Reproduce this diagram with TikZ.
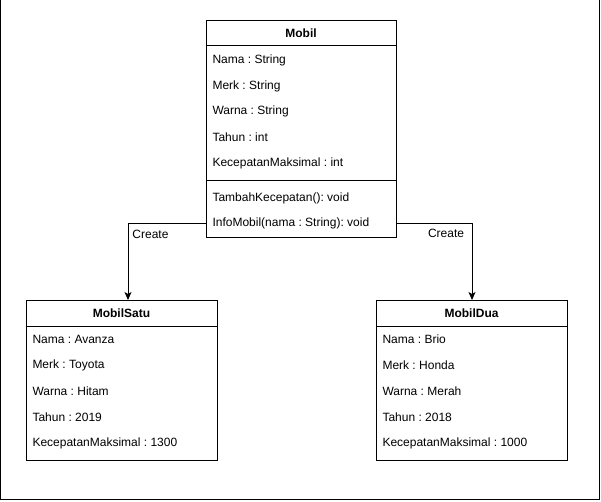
\documentclass[tikz,border=0pt]{standalone}
\usepackage{fontspec}
\setmainfont{Liberation Sans}
\usetikzlibrary{arrows.meta}
\frenchspacing
\begin{document}
\begin{tikzpicture}[x=1pt,y=-1pt,line width=1pt,
  box/.style={draw,rectangle,anchor=north west,inner sep=0pt},
  attr/.style={anchor=west,inner sep=0pt,font=\fontsize{12}{14}\selectfont},
  head/.style={inner sep=0pt,font=\fontsize{12}{14}\selectfont\bfseries},
  lbl/.style={inner sep=0pt,font=\fontsize{12}{14}\selectfont},
  conn/.style={draw,-{Stealth[length=8pt,width=7pt,inset=2pt]}}]
\useasboundingbox (0,0) rectangle (601,501);
\draw (0.5,0) -- (0.5,499.5) -- (599.5,499.5) -- (599.5,0);
% Mobil
\node[box,minimum width=190pt,minimum height=217pt] (mobil) at (206,20) {};
\draw (206,45) -- (396,45);
\draw (206,180) -- (396,180);
\node[head] (mobilh) at (301,33) {Mobil};
\node[attr] (m1) at (212,60.5) {Nama : String};
\node[attr] (m2) at (212,86.5) {Merk : String};
\node[attr] (m3) at (212,111.5) {Warna : String};
\node[attr] (m4) at (212,137.5) {Tahun : int};
\node[attr] (m5) at (212,163.5) {KecepatanMaksimal : int};
\node[attr] (m6) at (212,198.5) {TambahKecepatan(): void};
\node[attr] (m7) at (212,223.5) {InfoMobil(nama : String): void};
% MobilSatu
\node[box,minimum width=191pt,minimum height=160pt] (satu) at (26,300) {};
\draw (26,326) -- (217,326);
\node[head] (satuh) at (121.5,313.5) {MobilSatu};
\node[attr] (s1) at (32,339.5) {Nama : Avanza};
\node[attr] (s2) at (32,365.5) {Merk : Toyota};
\node[attr] (s3) at (32,391.5) {Warna : Hitam};
\node[attr] (s4) at (32,417.5) {Tahun : 2019};
\node[attr] (s5) at (32,443.5) {KecepatanMaksimal : 1300};
% MobilDua
\node[box,minimum width=191pt,minimum height=160pt] (dua) at (376,300) {};
\draw (376,326) -- (567,326);
\node[head] (duah) at (471.5,313.5) {MobilDua};
\node[attr] (d1) at (382,339.5) {Nama : Brio};
\node[attr] (d2) at (382,365.5) {Merk : Honda};
\node[attr] (d3) at (382,391.5) {Warna : Merah};
\node[attr] (d4) at (382,417.5) {Tahun : 2018};
\node[attr] (d5) at (382,443.5) {KecepatanMaksimal : 1000};
% connectors
\coordinate (satuin) at (128,300);
\path[conn] (mobil.west |- 0,223) -| (satuin);
\path[conn] (mobil.east |- 0,223) -| (dua.north);
\node[lbl] (c1) at (150.5,234.5) {Create};
\node[lbl] (c2) at (446,233.5) {Create};
\end{tikzpicture}
\end{document}
